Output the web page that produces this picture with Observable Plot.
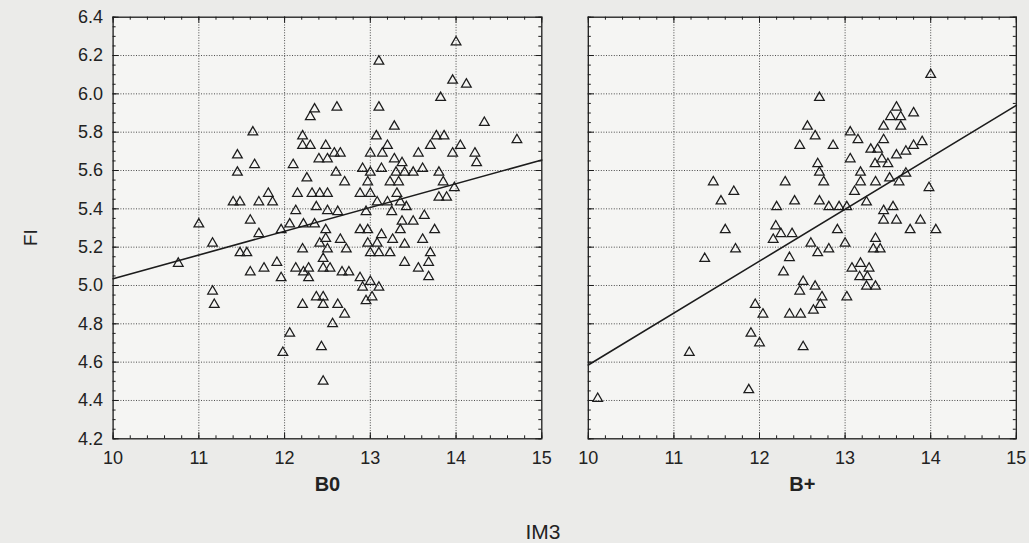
<!DOCTYPE html>
<html><head><meta charset="utf-8">
<script src="https://cdn.jsdelivr.net/npm/d3@7"></script>
<script src="https://cdn.jsdelivr.net/npm/@observablehq/plot@0.6"></script>
<style>
body{margin:0;background:#ebebe9;}
#wrap{position:relative;width:1029px;height:543px;overflow:hidden;font-family:"Liberation Sans",Arial,sans-serif;}
.panel{position:absolute;top:0;}
#xtitle{position:absolute;left:443px;width:200px;top:521px;line-height:21px;text-align:center;font-size:21px;color:#222;}
</style></head><body>
<div id="wrap"><div id="p1" class="panel" style="left:0"></div><div id="p2" class="panel" style="left:560px"></div><div id="xtitle">IM3</div></div>
<script>
// Panel labels
const panelLabels = ["B0", "B+"];
const yTitle = "FI";
// Axis ticks
const xTicks = [10, 11, 12, 13, 14, 15];
const yTicks = [4.2, 4.4, 4.6, 4.8, 5.0, 5.2, 5.4, 5.6, 5.8, 6.0, 6.2, 6.4];

// B0 panel points
const b0X = [12.35,12.30,12.61,11.63,12.21,12.21,12.30,12.48,12.58,12.40,12.50,11.45,11.65,11.45,12.10,12.26,12.60,
14.00,13.10,13.96,14.12,13.82,13.10,14.33,13.28,13.07,13.77,13.86,14.71,13.20,13.70,14.05,12.65,13.00,13.14,13.56,13.96,14.22,14.24,13.28,13.37,12.70,12.91,13.00,13.13,13.30,13.40,13.50,13.61,13.80,12.97,13.23,13.33,13.85,13.98,
12.88,13.00,13.31,13.80,13.89,13.08,13.20,13.35,13.42,12.62,12.95,13.25,13.63,13.37,13.50,12.88,12.97,13.13,13.35,13.75,12.65,13.26,13.61,12.97,13.08,13.40,12.72,13.00,13.10,13.23,13.70,13.40,13.56,13.68,12.67,12.75,12.88,13.68,12.91,13.00,13.10,13.02,12.95,12.62,12.70,12.56,
11.40,11.48,11.70,11.81,11.86,12.15,12.32,12.41,12.50,12.13,12.37,12.50,11.00,11.60,12.06,12.22,12.35,11.96,11.70,12.48,12.48,11.16,12.41,12.50,12.21,11.48,11.56,10.76,12.45,11.91,11.76,11.60,12.13,12.22,12.28,12.28,12.45,12.53,11.96,11.16,11.18,12.21,12.37,12.45,12.45,12.06,11.98,12.43,12.45];
const b0Y = [5.92,5.88,5.93,5.80,5.78,5.73,5.73,5.73,5.69,5.66,5.66,5.68,5.63,5.59,5.63,5.56,5.59,
6.27,6.17,6.07,6.05,5.98,5.93,5.85,5.83,5.78,5.78,5.78,5.76,5.73,5.73,5.73,5.69,5.69,5.69,5.69,5.69,5.69,5.64,5.66,5.64,5.54,5.61,5.59,5.61,5.59,5.59,5.59,5.61,5.59,5.54,5.54,5.54,5.54,5.51,
5.48,5.48,5.48,5.46,5.46,5.435,5.435,5.435,5.41,5.385,5.385,5.385,5.365,5.335,5.335,5.29,5.29,5.265,5.29,5.29,5.24,5.24,5.24,5.22,5.22,5.215,5.19,5.17,5.17,5.17,5.17,5.12,5.09,5.12,5.07,5.07,5.04,5.045,4.99,5.02,4.99,4.94,4.92,4.90,4.85,4.80,
5.435,5.435,5.435,5.48,5.435,5.48,5.48,5.48,5.48,5.39,5.41,5.39,5.32,5.34,5.32,5.32,5.32,5.29,5.27,5.29,5.245,5.22,5.22,5.19,5.19,5.17,5.17,5.115,5.14,5.12,5.09,5.07,5.09,5.07,5.09,5.04,5.09,5.09,5.04,4.97,4.90,4.90,4.94,4.94,4.90,4.75,4.65,4.68,4.50];

// B+ panel points
const bpX = [14.00,12.70,13.60,13.53,13.65,13.80,13.45,13.65,12.56,12.65,13.06,12.47,12.86,13.15,13.45,13.30,13.38,13.71,13.80,13.90,
13.60,13.06,12.68,13.35,13.43,13.50,12.70,13.18,13.71,12.75,13.18,13.355,13.52,13.63,13.98,11.46,11.70,12.30,11.55,12.41,
12.20,12.70,12.81,12.93,13.02,13.11,13.25,13.45,13.56,13.45,13.60,13.88,12.19,11.60,12.91,13.76,14.06,12.25,12.38,12.16,
13.355,12.60,13.00,11.72,11.36,12.35,12.68,12.81,13.33,13.41,12.28,13.08,13.18,13.28,13.17,13.26,13.25,13.355,12.51,12.47,
12.65,12.73,12.71,12.63,13.02,12.35,12.48,11.95,12.04,11.90,12.00,12.51,11.18,11.875,10.11];
const bpY = [6.10,5.98,5.93,5.88,5.88,5.90,5.83,5.83,5.83,5.78,5.80,5.73,5.73,5.76,5.76,5.71,5.71,5.70,5.73,5.75,
5.68,5.66,5.635,5.635,5.66,5.635,5.59,5.59,5.585,5.54,5.54,5.54,5.56,5.54,5.51,5.54,5.49,5.54,5.44,5.44,
5.41,5.44,5.41,5.41,5.41,5.49,5.435,5.39,5.41,5.34,5.34,5.34,5.31,5.29,5.29,5.29,5.29,5.27,5.27,5.24,
5.245,5.22,5.22,5.19,5.14,5.145,5.17,5.19,5.19,5.19,5.07,5.09,5.115,5.09,5.045,5.045,4.995,4.995,5.02,4.97,
4.995,4.94,4.90,4.87,4.94,4.85,4.85,4.90,4.85,4.75,4.70,4.68,4.65,4.455,4.41];

// Fitted regression lines, evaluated at x = 10 and 15
const fitX = [10, 15];
const fitB0Y = [5.035, 5.655];
const fitBpY = [4.585, 5.94];

const ink = "#1c1c1c";
const plotBg = "#f5f5f3";
const H = 480, MT = 16.7, MB = 41.7;
const frameH = H - MT - MB;
const xMinor = d3.range(10, 15.001, 0.2);
const yMinor = d3.range(4.2, 6.4001, 0.05);

function panel({xs, ys, fitY, label, showY, width, ml, mr}) {
  const pts = xs.map((x, i) => ({x, y: ys[i]}));
  const fit = fitX.map((x, i) => ({x, y: fitY[i]}));
  const frameW = width - ml - mr;
  const tickStyle = {stroke: ink, strokeWidth: 1};
  return Plot.plot({
    width, height: H, marginLeft: ml, marginRight: mr, marginTop: MT, marginBottom: MB,
    style: {background: "transparent", fontFamily: "Liberation Sans, Arial, sans-serif", fontSize: "18px", color: "#222", overflow: "visible"},
    x: {domain: [10, 15], axis: null},
    y: {domain: [4.2, 6.4], axis: null},
    marks: [
      Plot.frame({fill: plotBg, stroke: "none"}),
      Plot.gridX(xTicks.slice(1, -1), {stroke: "#3a3a3a", strokeOpacity: 0.9, strokeWidth: 1, strokeDasharray: "1,1.6"}),
      Plot.gridY(yTicks.slice(1, -1), {stroke: "#3a3a3a", strokeOpacity: 0.9, strokeWidth: 1, strokeDasharray: "1,1.6"}),
      // minor ticks (inward)
      Plot.ruleX(xMinor, {x: d => d, insetTop: frameH - 3, ...tickStyle}),
      Plot.ruleX(xMinor, {x: d => d, insetBottom: frameH - 3, ...tickStyle}),
      Plot.ruleY(yMinor, {y: d => d, insetRight: frameW - 3, ...tickStyle}),
      Plot.ruleY(yMinor, {y: d => d, insetLeft: frameW - 3, ...tickStyle}),
      // major ticks (inward)
      Plot.ruleX(xTicks, {x: d => d, insetTop: frameH - 6, ...tickStyle}),
      Plot.ruleX(xTicks, {x: d => d, insetBottom: frameH - 6, ...tickStyle}),
      Plot.ruleY(yTicks, {y: d => d, insetRight: frameW - 6, ...tickStyle}),
      Plot.ruleY(yTicks, {y: d => d, insetLeft: frameW - 6, ...tickStyle}),
      Plot.line(fit, {x: "x", y: "y", stroke: ink, strokeWidth: 1.6}),
      Plot.dot(pts, {x: "x", y: "y", symbol: "triangle", r: 3.6, stroke: ink, strokeWidth: 1.25, fill: "none"}),
      Plot.frame({stroke: ink, strokeWidth: 1.3}),
      Plot.axisX(xTicks, {anchor: "bottom", tickSize: 0, tickPadding: 12, label: null, fontSize: 18, fill: "#222"}),
      showY ? Plot.axisY(yTicks, {anchor: "left", tickSize: 0, tickPadding: 10, tickFormat: d => d.toFixed(1), label: null, fontSize: 18, fill: "#222"}) : null,
      showY ? Plot.text([yTitle], {frameAnchor: "left", dx: -82, dy: 18, rotate: -90, fontSize: 19, fill: "#222", lineAnchor: "middle"}) : null,
      Plot.text([label], {frameAnchor: "bottom", dy: 46, fontWeight: "bold", fontSize: 20, fill: "#222", lineAnchor: "middle"})
    ]
  });
}

document.getElementById("p1").appendChild(panel({xs: b0X, ys: b0Y, fitY: fitB0Y, label: panelLabels[0], showY: true, width: 560, ml: 112.6, mr: 18.7}));
document.getElementById("p2").appendChild(panel({xs: bpX, ys: bpY, fitY: fitBpY, label: panelLabels[1], showY: false, width: 469, ml: 27.8, mr: 13.2}));
</script>
</body></html>
